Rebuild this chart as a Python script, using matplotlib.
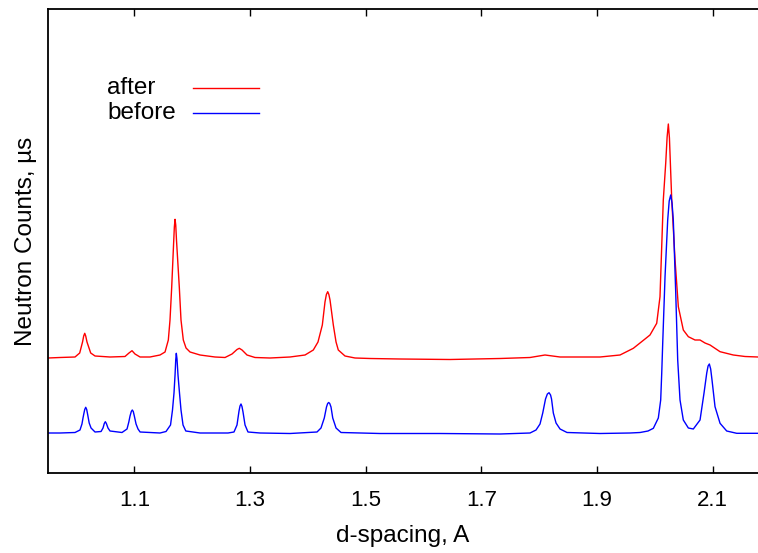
import matplotlib
matplotlib.use("Agg")
import matplotlib.pyplot as plt

# d-spacing (A) and neutron counts (arbitrary units)
before_d = [0.9508, 0.9716, 0.9975, 1.0061, 1.0095, 1.0113, 1.0130, 1.0143, 1.0160, 1.0177,
            1.0195, 1.0220, 1.0252, 1.0321, 1.0425, 1.0459, 1.0481, 1.0499, 1.0517, 1.0545,
            1.0580, 1.0787, 1.0874, 1.0905, 1.0926, 1.0948, 1.0965, 1.0982, 1.1000, 1.1030,
            1.1064, 1.1100, 1.1444, 1.1548, 1.1626, 1.1660, 1.1686, 1.1704, 1.1716, 1.1726,
            1.1738, 1.1755, 1.1781, 1.1807, 1.1842, 1.1890, 1.2136, 1.2620, 1.2723, 1.2775,
            1.2810, 1.2827, 1.2844, 1.2861, 1.2879, 1.2914, 1.2965, 1.3173, 1.3691, 1.4158,
            1.4227, 1.4284, 1.4322, 1.4342, 1.4360, 1.4378, 1.4400, 1.4430, 1.4487, 1.4573,
            1.5247, 1.6284, 1.7322, 1.7840, 1.7944, 1.8013, 1.8060, 1.8108, 1.8140, 1.8169,
            1.8195, 1.8212, 1.8243, 1.8290, 1.8359, 1.8480, 1.9050, 1.9569, 1.9742, 1.9880,
            1.9972, 2.0058, 2.0099, 2.0117, 2.0134, 2.0174, 2.0220, 2.0246, 2.0272, 2.0295,
            2.0317, 2.0359, 2.0393, 2.0433, 2.0490, 2.0577, 2.0663, 2.0779, 2.0848, 2.0895,
            2.0918, 2.0940, 2.0963, 2.0986, 2.1038, 2.1125, 2.1240, 2.1413, 2.1781]
before_counts = [40, 40, 40.5, 43, 49, 55, 60, 63.5, 65.7, 63.5,
                 58, 50, 45, 41, 41.5, 45, 49.5, 51.3, 49.5, 45,
                 42, 40.5, 44, 51, 57, 61.5, 63, 61.5, 57, 49,
                 44, 41, 40, 41.5, 48, 63, 80, 98, 113, 119.7,
                 114, 98, 80, 63, 48, 42, 40, 40, 41, 48,
                 62, 67, 69, 66.5, 61, 48, 41, 40, 39.5, 41,
                 45, 55, 66, 69.5, 70.5, 69.5, 66, 55, 45, 40.5,
                 39.5, 39.5, 39, 40, 43, 49, 60, 74, 79, 80.3,
                 78, 74, 60, 50, 44, 40.5, 39.5, 40, 40.5, 42,
                 44.7, 55, 73, 100, 130, 196.3, 253, 272, 278, 270,
                 253, 180, 113, 73, 53, 45, 44, 53, 80, 100,
                 107, 109, 104, 93, 66.3, 49.7, 42, 39.7, 39.7]

after_d = [0.9508, 0.9716, 0.9975, 1.0056, 1.0105, 1.0125, 1.0143, 1.0160, 1.0182, 1.0246,
           1.0321, 1.0580, 1.0839, 1.0908, 1.0960, 1.1012, 1.1099, 1.1271, 1.1444, 1.1531,
           1.1588, 1.1617, 1.1646, 1.1678, 1.1692, 1.1704, 1.1716, 1.1729, 1.1778, 1.1807,
           1.1847, 1.1894, 1.1963, 1.2136, 1.2395, 1.2568, 1.2689, 1.2775, 1.2815, 1.2862,
           1.2948, 1.3086, 1.3346, 1.3691, 1.3951, 1.4094, 1.4175, 1.4250, 1.4296, 1.4320,
           1.4343, 1.4363, 1.4383, 1.4440, 1.4487, 1.4526, 1.4642, 1.4815, 1.5074, 1.5593,
           1.6457, 1.7322, 1.7840, 1.8099, 1.8359, 1.8704, 1.9050, 1.9396, 1.9626, 1.9828,
           1.9914, 2.0030, 2.0087, 2.0144, 2.0186, 2.0210, 2.0231, 2.0250, 2.0290, 2.0347,
           2.0404, 2.0490, 2.0577, 2.0692, 2.0779, 2.0865, 2.0952, 2.1125, 2.1354, 2.1557,
           2.1781]
after_counts = [115, 115.5, 116, 120, 131, 137, 139.7, 137, 131, 120,
                117, 116, 116.5, 120, 122.3, 119, 116, 116, 118, 121,
                133, 153, 185.5, 228, 246, 253.7, 248, 233, 185.5, 153,
                133, 125, 121, 118, 116, 115.5, 119, 123.5, 124.7, 123,
                118, 115.5, 115, 116, 118, 123, 131, 148, 171, 178.5,
                181.3, 178.5, 173, 148, 131, 123, 117, 115, 114.5, 114,
                113.5, 114.5, 115.5, 118, 116, 116, 116, 118, 124.7, 134,
                138, 149.7, 176.3, 273, 310, 336, 349, 335, 273, 213,
                166.3, 143, 136.3, 133, 133, 130, 128, 121.3, 118, 116.5,
                116]

xticks = [1.1, 1.3, 1.5, 1.7, 1.9, 2.1]
xtick_labels = ["1.1", "1.3", "1.5", "1.7", "1.9", "2.1"]

plt.rcParams['font.family'] = ['Liberation Sans', 'DejaVu Sans']

W, H = 758, 553
fig = plt.figure(figsize=(W / 100, H / 100), dpi=100)
ax = fig.add_axes([48 / W, 1 - 473 / H, (758 - 48) / W, (473 - 9) / H])

l_after, = ax.plot(after_d, after_counts, color='#ff0000', lw=1.0)
l_before, = ax.plot(before_d, before_counts, color='#0000ff', lw=1.0)

ax.set_xlim(0.9508, 2.1781)
ax.set_ylim(0, 464)
ax.set_xticks(xticks)
ax.set_xticklabels(xtick_labels)
ax.set_yticks([])
ax.tick_params(axis='x', direction='in', length=5, width=1, top=True,
               labelsize=16, pad=12)
for s in ['left', 'bottom', 'top']:
    ax.spines[s].set_linewidth(1.3)
ax.spines['right'].set_visible(False)

ax.set_xlabel('d-spacing, A', fontsize=17.5, labelpad=10)
ax.set_ylabel('Neutron Counts, µs', fontsize=17.5, labelpad=8)

# key
for txt, line, yk in [('after', l_after, 0.8297), ('before', l_before, 0.7759)]:
    ax.text(0.0831, yk, txt, transform=ax.transAxes, fontsize=17.5,
            ha='left', va='center')
    ax.plot([0.2042, 0.2972], [yk, yk], transform=ax.transAxes,
            color=line.get_color(), lw=1.0)

fig.savefig('out.png', dpi=100)
